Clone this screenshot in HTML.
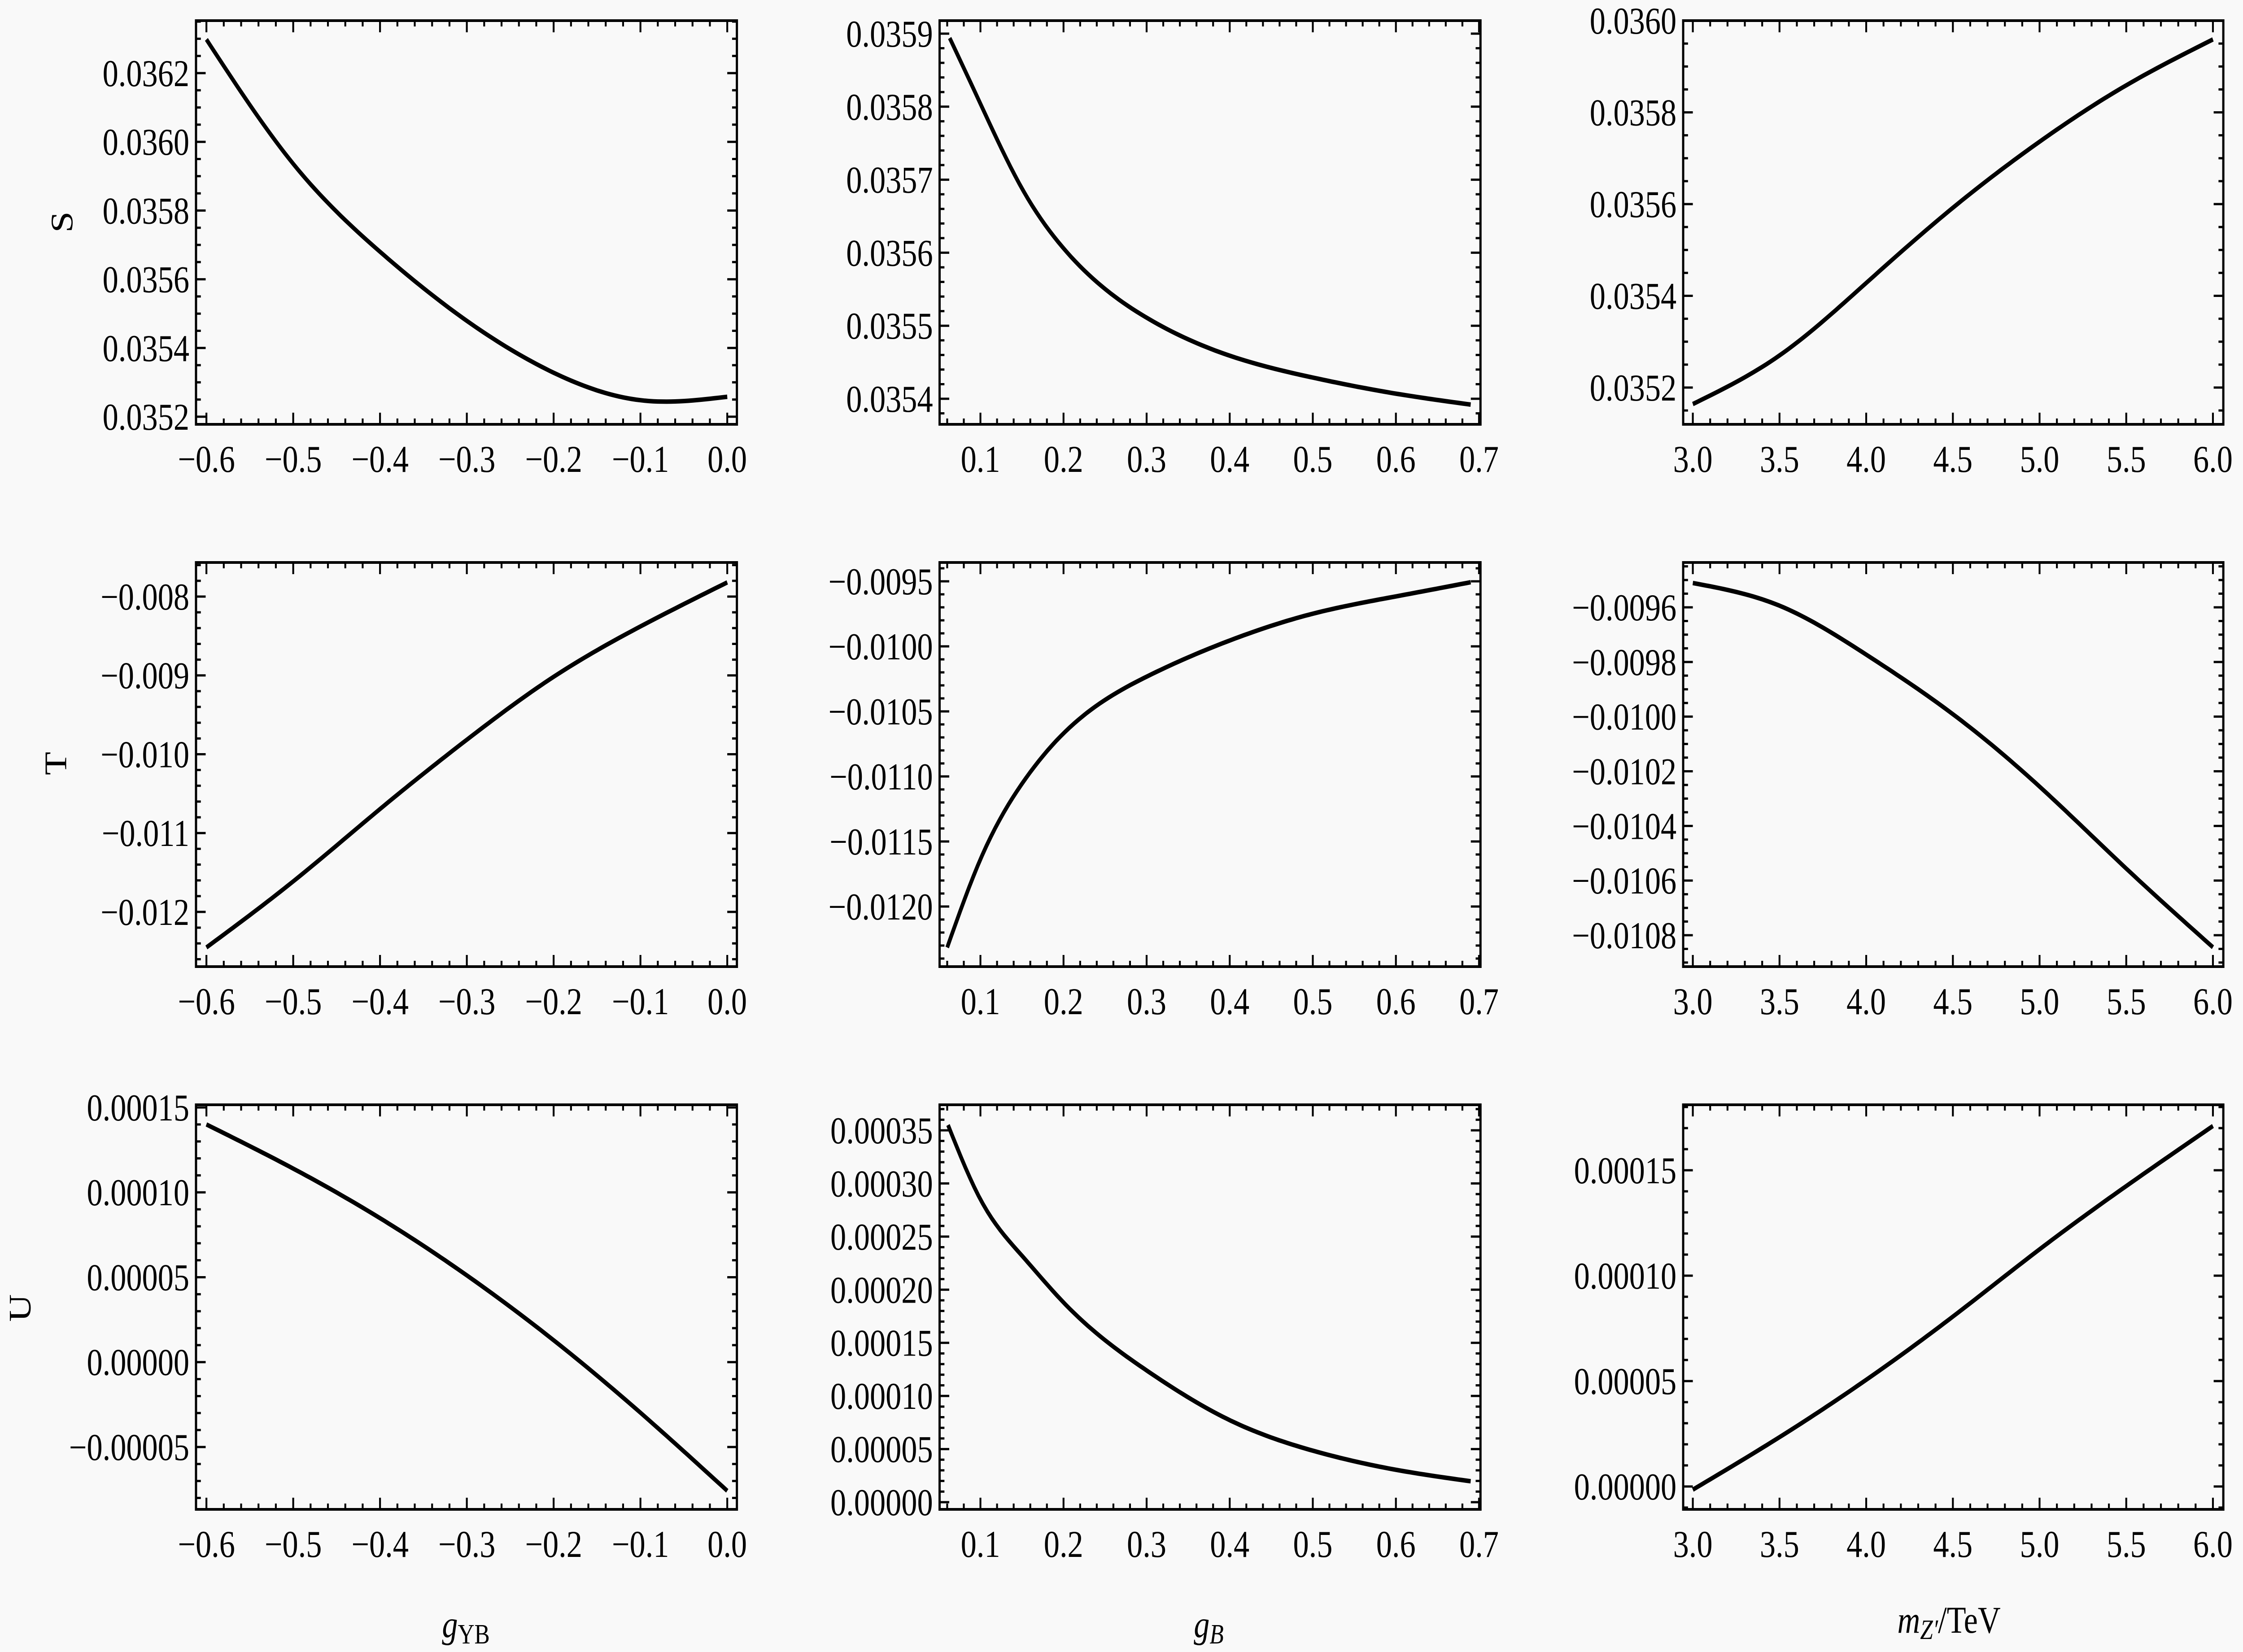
<!DOCTYPE html>
<html><head><meta charset="utf-8"><style>
html,body{margin:0;padding:0;background:#f9f9f9;overflow:hidden;width:100vw;height:100vh;}
svg{display:block;font-family:"Liberation Serif",serif;position:absolute;left:0;top:0;width:100vw;height:100vh;}
</style></head><body>
<svg id="chart" viewBox="0 0 6042 3683" preserveAspectRatio="none" xmlns="http://www.w3.org/2000/svg">
<rect x="0" y="0" width="6042" height="3683" fill="#f9f9f9"/>
<text x="0" y="0" font-size="85" text-anchor="middle" transform="translate(195,495) rotate(-90)">S</text>
<text x="0" y="0" font-size="85" text-anchor="middle" transform="translate(178,1702) rotate(-90)">T</text>
<text x="0" y="0" font-size="85" text-anchor="middle" transform="translate(82,2916) rotate(-90)">U</text>
<text x="1255" y="3650" font-size="85" text-anchor="middle"><tspan font-style="italic">g</tspan><tspan font-size="62" dy="14">YB</tspan></text>
<text x="3256" y="3650" font-size="85" text-anchor="middle"><tspan font-style="italic">g</tspan><tspan font-size="62" dy="14" font-style="italic">B</tspan></text>
<text x="5250" y="3640" font-size="85" text-anchor="middle"><tspan font-style="italic">m</tspan><tspan font-size="62" dy="14" font-style="italic">Z′</tspan><tspan dy="-14">/TeV</tspan></text>
</svg>
<script>
// ---- data ----
const s1X=[-0.6,-0.5,-0.4,-0.3,-0.2,-0.1,0.0];
const s1Y=[0.036298,0.035936,0.035680,0.035479,0.035328,0.035248,0.035258];
const s2X=[0.063,0.1,0.15,0.2,0.3,0.4,0.5,0.6,0.69];
const s2Y=[0.035894,0.035804,0.035688,0.035606,0.035511,0.035459,0.035429,0.035407,0.035392];
const s3X=[3.0,3.5,4.0,4.5,5.0,5.5,6.0];
const s3Y=[0.035164,0.035270,0.035428,0.035592,0.035736,0.035859,0.035959];
const t1X=[-0.6,-0.5,-0.4,-0.3,-0.2,-0.1,0.0];
const t1Y=[-0.012451,-0.011613,-0.010695,-0.009816,-0.009018,-0.008379,-0.007820];
const t2X=[0.06,0.1,0.15,0.2,0.3,0.4,0.5,0.6,0.69];
const t2Y=[-0.012315,-0.011637,-0.011056,-0.010669,-0.010233,-0.009955,-0.009749,-0.009616,-0.009507];
const t3X=[3.0,3.5,4.0,4.5,5.0,5.5,6.0];
const t3Y=[-0.009511,-0.009594,-0.009773,-0.009991,-0.010256,-0.010556,-0.010844];
const u1X=[-0.6,-0.5,-0.4,-0.3,-0.2,-0.1,0.0];
const u1Y=[0.000140,0.000114,0.0000848,0.0000511,0.0000129,-0.0000298,-0.0000758];
const u2X=[0.061,0.1,0.15,0.2,0.3,0.4,0.5,0.6,0.69];
const u2Y=[0.000355,0.000285,0.000232,0.000188,0.000124,0.0000772,0.0000485,0.0000305,0.0000197];
const u3X=[3.0,3.5,4.0,4.5,5.0,5.5,6.0];
const u3Y=[-0.0000015,0.0000234,0.0000506,0.0000806,0.0001125,0.0001425,0.000171];
// tick labels
const xTicksG=[-0.6,-0.5,-0.4,-0.3,-0.2,-0.1,0.0];
const xTicksB=[0.1,0.2,0.3,0.4,0.5,0.6,0.7];
const xTicksM=[3.0,3.5,4.0,4.5,5.0,5.5,6.0];
const yTicksS1=[0.0352,0.0354,0.0356,0.0358,0.0360,0.0362];
const yTicksS2=[0.0354,0.0355,0.0356,0.0357,0.0358,0.0359];
const yTicksS3=[0.0352,0.0354,0.0356,0.0358,0.0360];
const yTicksT1=[-0.012,-0.011,-0.010,-0.009,-0.008];
const yTicksT2=[-0.0120,-0.0115,-0.0110,-0.0105,-0.0100,-0.0095];
const yTicksT3=[-0.0108,-0.0106,-0.0104,-0.0102,-0.0100,-0.0098,-0.0096];
const yTicksU1=[-0.00005,0.00000,0.00005,0.00010,0.00015];
const yTicksU2=[0.00000,0.00005,0.00010,0.00015,0.00020,0.00025,0.00030,0.00035];
const yTicksU3=[0.00000,0.00005,0.00010,0.00015];

// ---- layout (pixels) ----
const NS='http://www.w3.org/2000/svg';
const svg=document.getElementById('chart');
const cols=[[528,1985],[2531,3988],[4534,5989]];
const rows=[[46,946],[1254,2155],[2463,3365]];
function lin(v0,p0,v1,p1){return v=>p0+(v-v0)*(p1-p0)/(v1-v0);}
const xMaps=[lin(-0.6,556,0.0,1959),lin(0.1,2641,0.7,3984),lin(3.0,4560,6.0,5961)];
const xTicksAll=[xTicksG,xTicksB,xTicksM];
const xMinor=[0.02,0.02,0.1];
const panels=[
 {n:'s-vs-gyb',c:0,r:0,xs:s1X,ys:s1Y,yt:yTicksS1,ym:lin(0.0362,163,0.0352,929),mn:0.00005,d:4},
 {n:'s-vs-gb',c:1,r:0,xs:s2X,ys:s2Y,yt:yTicksS2,ym:lin(0.0359,75,0.0354,889),mn:0.00002,d:4},
 {n:'s-vs-mz',c:2,r:0,xs:s3X,ys:s3Y,yt:yTicksS3,ym:lin(0.0360,46,0.0352,864),mn:0.00005,d:4},
 {n:'t-vs-gyb',c:0,r:1,xs:t1X,ys:t1Y,yt:yTicksT1,ym:lin(-0.008,1330,-0.012,2033),mn:0.0002,d:3},
 {n:'t-vs-gb',c:1,r:1,xs:t2X,ys:t2Y,yt:yTicksT2,ym:lin(-0.0095,1296,-0.0120,2021),mn:0.0001,d:4},
 {n:'t-vs-mz',c:2,r:1,xs:t3X,ys:t3Y,yt:yTicksT3,ym:lin(-0.0096,1354,-0.0108,2085),mn:0.00005,d:4},
 {n:'u-vs-gyb',c:0,r:2,xs:u1X,ys:u1Y,yt:yTicksU1,ym:lin(0.00015,2469,-0.00005,3226),mn:0.00001,d:5},
 {n:'u-vs-gb',c:1,r:2,xs:u2X,ys:u2Y,yt:yTicksU2,ym:lin(0.0,3349,0.00035,2520),mn:0.00001,d:5},
 {n:'u-vs-mz',c:2,r:2,xs:u3X,ys:u3Y,yt:yTicksU3,ym:lin(0.0,3314,0.00015,2609),mn:0.00001,d:5}
];
function mk(tag,attrs,parent){const e=document.createElementNS(NS,tag);for(const k in attrs)e.setAttribute(k,attrs[k]);(parent||svg).appendChild(e);return e;}
function fmt(v,d){const s=Math.abs(v).toFixed(d);return (v<-1e-12?'\u2212':'')+s;}
// natural cubic spline in x
function spline(xs,ys){
 const n=xs.length,h=[],a=[],l=[1],mu=[0],z=[0],c=new Array(n).fill(0),b=[],d=[];
 for(let i=0;i<n-1;i++)h.push(xs[i+1]-xs[i]);
 for(let i=1;i<n-1;i++)a[i]=3/h[i]*(ys[i+1]-ys[i])-3/h[i-1]*(ys[i]-ys[i-1]);
 for(let i=1;i<n-1;i++){l[i]=2*(xs[i+1]-xs[i-1])-h[i-1]*mu[i-1];mu[i]=h[i]/l[i];z[i]=(a[i]-h[i-1]*z[i-1])/l[i];}
 for(let j=n-2;j>=0;j--){if(j>0)c[j]=z[j]-mu[j]*c[j+1];b[j]=(ys[j+1]-ys[j])/h[j]-h[j]*(c[j+1]+2*c[j])/3;d[j]=(c[j+1]-c[j])/(3*h[j]);}
 return x=>{let i=0;while(i<n-2&&x>xs[i+1])i++;const t=x-xs[i];return ys[i]+b[i]*t+c[i]*t*t+d[i]*t*t*t;};
}

panels.forEach(p=>{
 const [L,R]=cols[p.c],[T,B]=rows[p.r];
 const xm=xMaps[p.c],xt=xTicksAll[p.c];
 const g=mk('g',{});
 
 
 let tk='';
 const xStep=xt[1]-xt[0];
 for(let v=xt[0]-xStep;v<=xt[xt.length-1]+xStep+1e-9;v+=xMinor[p.c]){
   const px=xm(v); if(px<L+2||px>R-2)continue;
   const k=(v-xt[0])/xStep;const major=Math.abs(k-Math.round(k))<1e-6;
   const len=major?26:13;
   tk+='M'+px+','+B+'v'+(-len)+'M'+px+','+T+'v'+len;
 }
 const yStep=p.yt[1]-p.yt[0];
 for(let v=p.yt[0]-yStep;v<=p.yt[p.yt.length-1]+yStep+1e-12;v+=p.mn){
   const py=p.ym(v); if(py<T+2||py>B-2)continue;
   const k=(v-p.yt[0])/yStep;const major=Math.abs(k-Math.round(k))<1e-6;
   const len=major?26:13;
   tk+='M'+L+','+py+'h'+len+'M'+R+','+py+'h'+(-len);
 }
 const ticks=mk('path',{d:tk,stroke:'#000','stroke-width':5,fill:'none'},g);
 
 
 const fr=mk('rect',{x:L,y:T,width:R-L,height:B-T,fill:'none',stroke:'#000','stroke-width':6},g);
 
 
 xt.forEach(v=>{
   const t=mk('text',{x:xm(v),y:B+106,'font-size':85,'text-anchor':'middle'},g);
   t.textContent=fmt(v,1);
   
   
 });
 p.yt.forEach(v=>{
   const t=mk('text',{x:L-18,y:p.ym(v)+29,'font-size':85,'text-anchor':'end'},g);
   t.textContent=fmt(v,p.d);
   
   
 });
 const f=spline(p.xs,p.ys);
 const x0=p.xs[0],x1=p.xs[p.xs.length-1];
 let dd='';
 for(let i=0;i<=120;i++){const x=x0+(x1-x0)*i/120;dd+=(i?'L':'M')+xm(x).toFixed(1)+','+p.ym(f(x)).toFixed(1);}
 const line=mk('path',{d:dd,stroke:'#000','stroke-width':10,fill:'none','stroke-linejoin':'round'},g);
 
 
});
</script>
</body></html>
